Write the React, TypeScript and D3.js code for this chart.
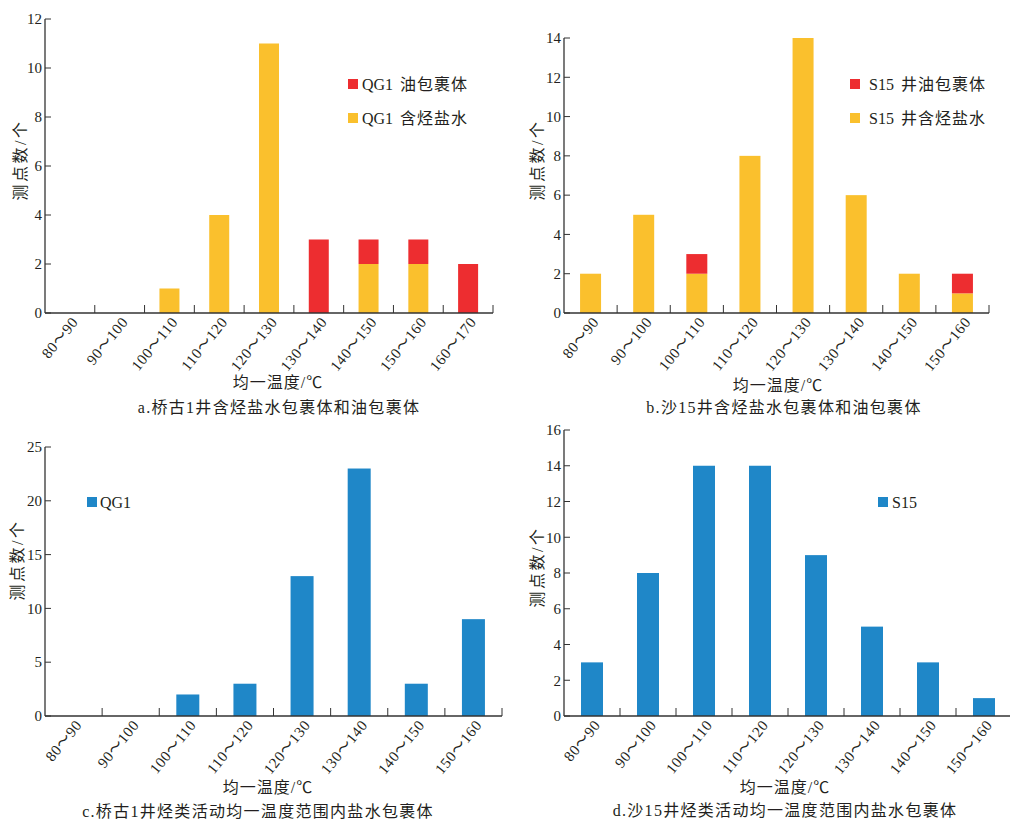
import React from 'react';
import * as d3 from 'd3';

const catsA = ['80～90', '90～100', '100～110', '110～120', '120～130', '130～140', '140～150', '150～160', '160～170'];
const brineA = [0, 0, 1, 4, 11, 0, 2, 2, 0];
const oilA = [0, 0, 0, 0, 0, 3, 1, 1, 2];

const catsB = ['80～90', '90～100', '100～110', '110～120', '120～130', '130～140', '140～150', '150～160'];
const brineB = [2, 5, 2, 8, 14, 6, 2, 1];
const oilB = [0, 0, 1, 0, 0, 0, 0, 1];

const catsC = catsB;
const qg1C = [0, 0, 2, 3, 13, 23, 3, 9];

const catsD = catsB;
const s15D = [3, 8, 14, 14, 9, 5, 3, 1];

const RED = '#ED2D30';
const YELLOW = '#FAC02D';
const BLUE = '#1F87C8';
const INK = '#231F20';
const FONT = "'Liberation Serif', 'Noto Sans CJK SC', serif";

type Series = { key: string; values: number[]; color: string; tag: string; label: string };

type PanelProps = {
    cats: string[];
    series: Series[];
    x0: number; x1: number; yTop: number; yBottom: number;
    yMax: number; tickCount: number; barW: number;
    legendX: number; legendY: number[]; legendTextX: number;
    xTitle: [number, number]; caption: [number, number]; captionText: string;
    yTitle: [number, number];
};

function Panel(p: PanelProps) {
    const x = d3.scaleBand<string>().domain(p.cats).range([p.x0, p.x1]).paddingInner(0).paddingOuter(0);
    const y = d3.scaleLinear().domain([0, p.yMax]).range([p.yBottom, p.yTop]);
    const rows = p.cats.map((c, i) => {
        const r: any = { cat: c };
        p.series.forEach(s => { r[s.key] = s.values[i]; });
        return r;
    });
    const stacked = d3.stack<any>().keys(p.series.map(s => s.key))(rows);
    const bw = x.bandwidth();

    return (
        <g fontFamily={FONT} fill={INK}>
            {stacked.map((layer, li) => (
                <g key={li} fill={p.series[li].color}>
                    {layer.map((d, i) => d[1] - d[0] > 0 ? (
                        <rect key={i}
                              x={(x(p.cats[i]) as number) + bw / 2 - p.barW / 2}
                              y={y(d[1])}
                              width={p.barW}
                              height={y(d[0]) - y(d[1])}/>
                    ) : null)}
                </g>
            ))}
            {/* axes */}
            <line x1={p.x0} x2={p.x0} y1={p.yTop} y2={p.yBottom} stroke="#333" strokeWidth={1.3}/>
            <line x1={p.x0} x2={p.x1} y1={p.yBottom} y2={p.yBottom} stroke="#333" strokeWidth={1.3}/>
            {y.ticks(p.tickCount).map(t => (
                <g key={t} transform={`translate(${p.x0},${y(t)})`}>
                    <line x1={0} x2={6} stroke="#333" strokeWidth={1}/>
                    <text x={-3} dy="0.35em" textAnchor="end" fontSize={15}>{t}</text>
                </g>
            ))}
            {p.cats.map((c, i) => {
                const right = (x(c) as number) + bw;
                const cx = (x(c) as number) + bw / 2;
                return (
                    <g key={c}>
                        <line x1={right} x2={right} y1={p.yBottom} y2={p.yBottom - 8} stroke="#333" strokeWidth={1}/>
                        <text transform={`translate(${cx + 5},${p.yBottom + 6}) rotate(-51)`}
                              textAnchor="end" dy="0.35em" fontSize={15} letterSpacing={0.6}>{c}</text>
                    </g>
                );
            })}
            {/* legend */}
            {p.series.map((s, i) => (
                <g key={s.key}>
                    <rect x={p.legendX} y={p.legendY[i] - 5} width={10} height={10} fill={s.color}/>
                    <text x={p.legendTextX} y={p.legendY[i]} dy="0.35em" fontSize={16}>
                        {s.tag}
                        {s.label ? <tspan dx={7} letterSpacing={1}>{s.label}</tspan> : null}
                    </text>
                </g>
            ))}
            <text transform={`translate(${p.yTitle[0]},${p.yTitle[1]}) rotate(-90)`}
                  textAnchor="middle" dy="0.35em" fontSize={16} letterSpacing={2.5}>测点数/个</text>
            <text x={p.xTitle[0]} y={p.xTitle[1]} textAnchor="middle" dy="0.35em" fontSize={16}
                  letterSpacing={1}>均一温度/℃</text>
            <text x={p.caption[0]} y={p.caption[1]} textAnchor="middle" dy="0.35em" fontSize={16}
                  letterSpacing={1.3}>{p.captionText}</text>
        </g>
    );
}

export default function App() {
    return (
        <svg width={1010} height={819} style={{position: 'absolute', left: 0, top: 0, background: '#fff'}}>
            <Panel cats={catsA}
                   series={[
                       {key: 'brine', values: brineA, color: YELLOW, tag: 'QG1', label: '含烃盐水'},
                       {key: 'oil', values: oilA, color: RED, tag: 'QG1', label: '油包裹体'},
                   ]}
                   x0={45} x1={493} yTop={19} yBottom={313} yMax={12} tickCount={6} barW={20}
                   legendX={348} legendY={[118, 84]} legendTextX={362}
                   xTitle={[278, 382]} caption={[279, 407]} captionText="a.桥古1井含烃盐水包裹体和油包裹体"
                   yTitle={[20, 160]}/>
            <Panel cats={catsB}
                   series={[
                       {key: 'brine', values: brineB, color: YELLOW, tag: 'S15', label: '井含烃盐水'},
                       {key: 'oil', values: oilB, color: RED, tag: 'S15', label: '井油包裹体'},
                   ]}
                   x0={564} x1={989} yTop={38} yBottom={313} yMax={14} tickCount={7} barW={21}
                   legendX={850} legendY={[118, 84]} legendTextX={869}
                   xTitle={[778, 385]} caption={[784, 407]} captionText="b.沙15井含烃盐水包裹体和油包裹体"
                   yTitle={[537, 160]}/>
            <Panel cats={catsC}
                   series={[{key: 'qg1', values: qg1C, color: BLUE, tag: 'QG1', label: ''}]}
                   x0={45} x1={502} yTop={447} yBottom={716} yMax={25} tickCount={5} barW={23}
                   legendX={87} legendY={[502]} legendTextX={100}
                   xTitle={[268, 787]} caption={[258, 811]} captionText="c.桥古1井烃类活动均一温度范围内盐水包裹体"
                   yTitle={[17, 560]}/>
            <Panel cats={catsD}
                   series={[{key: 's15', values: s15D, color: BLUE, tag: 'S15', label: ''}]}
                   x0={564} x1={1012} yTop={430} yBottom={716} yMax={16} tickCount={8} barW={22}
                   legendX={878} legendY={[502]} legendTextX={892}
                   xTitle={[785, 787]} caption={[785, 810]} captionText="d.沙15井烃类活动均一温度范围内盐水包裹体"
                   yTitle={[537, 567]}/>
        </svg>
    );
}
